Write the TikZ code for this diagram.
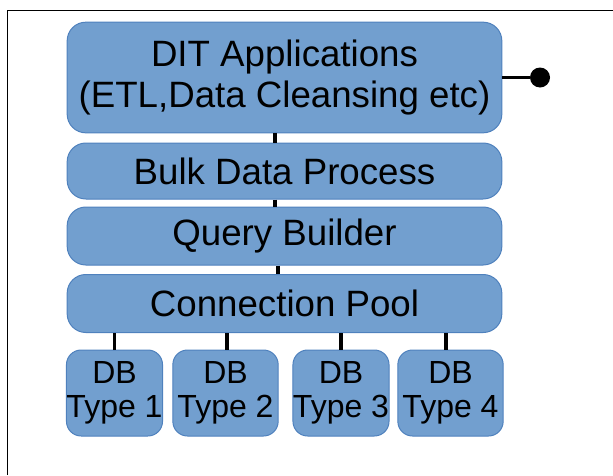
\documentclass[tikz,border=0pt]{standalone}
\usepackage{fontspec}
\setmainfont{Liberation Sans}

\definecolor{boxfill}{RGB}{114,159,207}
\definecolor{boxline}{RGB}{79,129,189}

\tikzset{every picture/.style={line width=0.75pt}}
\tikzset{
  layerbox/.style={draw=boxline, fill=boxfill, rounded corners=14pt, align=center,
    inner sep=0pt, font=\fontsize{27.5}{31}\selectfont},
  dbbox/.style={draw=boxline, fill=boxfill, rounded corners=11pt, align=center,
    inner sep=0pt, font=\fontsize{24}{25.5}\selectfont},
  link/.style={line width=2.8pt}
}

\begin{document}
\begin{tikzpicture}[x=0.75pt,y=0.75pt,yscale=-1,xscale=1]
\useasboundingbox (0,0) rectangle (613,475);

% Frame
\draw (7,475) -- (7,10) -- (613,10);

% Layers
\node (dit) [layerbox, minimum width=326pt, minimum height=83pt] at (284.5,77.5)
  {DIT Applications\\(ETL,Data Cleansing etc)};
\node (bulk) [layerbox, minimum width=326pt, minimum height=42pt] at (284.5,171) {Bulk Data Process};
\node (query) [layerbox, minimum width=326pt, minimum height=43.5pt] at (284.5,236) {Query Builder};
\node (pool) [layerbox, minimum width=326pt, minimum height=43.5pt] at (284.5,303.5) {Connection Pool};

% Databases
\node (db1) [dbbox, minimum width=71pt, minimum height=64.5pt] at (114.5,393) {DB\\Type 1};
\node (db2) [dbbox, minimum width=79pt, minimum height=64.5pt] at (225.5,393) {DB\\Type 2};
\node (db3) [dbbox, minimum width=71pt, minimum height=64.5pt] at (341,393) {DB\\Type 3};
\node (db4) [dbbox, minimum width=79pt, minimum height=64.5pt] at (450.5,393) {DB\\Type 4};

% Interface dot
\node (dot) [circle, fill, inner sep=0pt, minimum size=15pt] at (540,77.5) {};

% Links
\draw [link] ([xshift=-7pt]dit.south) -- ([xshift=-7pt]bulk.north);
\draw [link] ([xshift=-7pt]bulk.south) -- ([xshift=-7pt]query.north);
\draw [link] ([xshift=-5pt]query.south) -- ([xshift=-5pt]pool.north);
\draw [link] (db1.north |- pool.south) -- (db1.north);
\draw [link] ([xshift=1pt]db2.north |- pool.south) -- ([xshift=1pt]db2.north);
\draw [link] (db3.north |- pool.south) -- (db3.north);
\draw [link] ([xshift=-3.5pt]db4.north |- pool.south) -- ([xshift=-3.5pt]db4.north);
\draw [link] (dit.east) -- (dot.west);

\end{tikzpicture}
\end{document}
